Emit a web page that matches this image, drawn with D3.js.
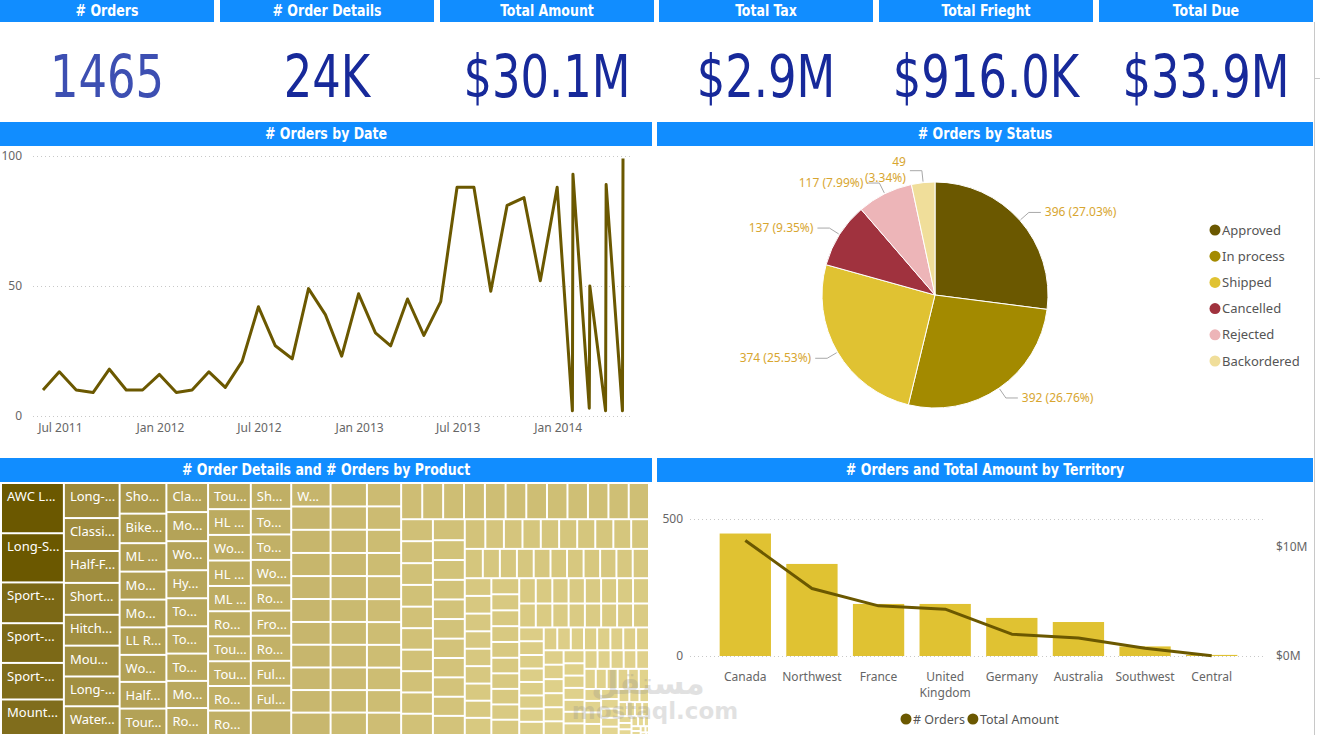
<!DOCTYPE html>
<html>
<head>
<meta charset="utf-8">
<script src="https://cdn.jsdelivr.net/npm/d3@7"></script>
<style>
  body { margin: 0; background: #fff; }
  svg { display: block; }
</style>
</head>
<body>
<script>
// ---- KPI cards ----
const kpiTitles = ['# Orders', '# Order Details', 'Total Amount', 'Total Tax', 'Total Frieght', 'Total Due'];
const kpiValues = ['1465', '24K', '$30.1M', '$2.9M', '$916.0K', '$33.9M'];
const kpiColors = ['#3D4FB2', '#17299A', '#17299A', '#17299A', '#17299A', '#17299A'];

// ---- # Orders by Date ----
const orderDates = [
    '2011-05-31', '2011-06-30', '2011-07-31', '2011-08-31', '2011-09-30', '2011-10-31', '2011-11-30', '2011-12-31',
    '2012-01-31', '2012-02-29', '2012-03-31', '2012-04-30', '2012-05-31', '2012-06-30', '2012-07-31', '2012-08-31',
    '2012-09-30', '2012-10-31', '2012-11-30', '2012-12-31', '2013-01-31', '2013-02-28', '2013-03-31', '2013-04-30',
    '2013-05-31', '2013-06-30', '2013-07-31', '2013-08-31', '2013-09-30', '2013-10-31', '2013-11-30', '2013-12-31',
    '2014-01-28', '2014-01-29', '2014-02-28', '2014-03-01', '2014-03-30', '2014-03-31', '2014-04-30', '2014-05-01'
];
const orderCounts = [
    10, 17, 10, 9, 18, 10, 10, 16,
    9, 10, 17, 11, 21, 42, 27, 22,
    49, 39, 23, 47, 32, 27, 45, 31,
    44, 88, 88, 48, 81, 84, 52, 88,
    2, 93, 3, 50, 2, 89, 2, 99
];

// ---- # Orders by Status ----
const statusNames = ['Approved', 'In process', 'Shipped', 'Cancelled', 'Rejected', 'Backordered'];
const statusCounts = [396, 392, 374, 137, 117, 49];
const statusColors = ['#6B5800', '#A38A00', '#E0C232', '#A0323E', '#EDB5B8', '#F0DE9A'];

// ---- # Orders and Total Amount by Territory ----
const territories = ['Canada', 'Northwest', 'France', 'United Kingdom', 'Germany', 'Australia', 'Southwest', 'Central'];
const territoryOrders = [447, 336, 190, 190, 139, 124, 35, 4];
const territoryAmount = [10.6, 6.2, 4.6, 4.3, 2.0, 1.65, 0.72, 0.03]; // $M

// ---- # Order Details by Product (treemap) ----
const productNames = [
    'AWC Logo Cap', 'Long-Sleeve Logo Jersey, L', 'Sport-100 Helmet, Blue', 'Sport-100 Helmet, Black',
    'Sport-100 Helmet, Red', 'Mountain Bike Socks, M',
    'Long-Sleeve Logo Jersey, M', 'Classic Vest, S', 'Half-Finger Gloves, M', 'Short-Sleeve Classic Jersey, XL',
    'Hitch Rack - 4-Bike', 'Mountain Bottle Cage', 'Long-Sleeve Logo Jersey, XL', 'Water Bottle - 30 oz.',
    'Short-Sleeve Classic Jersey, L', 'Bike Wash - Dissolver', 'ML Mountain Frame-W - Silver, 42', 'Mountain-200 Black, 38',
    'Mountain-200 Silver, 38', 'LL Road Frame - Red, 44', "Women's Mountain Shorts, S", 'Half-Finger Gloves, L',
    'Touring-3000 Blue, 54',
    'Classic Vest, M', 'Mountain-100 Black, 44', "Women's Tights, L", 'Hydration Pack - 70 oz.', 'Touring-1000 Blue, 46',
    'Touring-2000 Blue, 60', 'Touring-1000 Yellow, 50', 'Mountain-200 Black, 42', 'Road-650 Red, 44',
    'Touring-3000 Yellow, 58', 'HL Mountain Frame - Black, 38', "Women's Mountain Shorts, M", 'HL Road Frame - Red, 44',
    'ML Road Frame - Red, 48', 'Road-350-W Yellow, 40', 'Touring-1000 Yellow, 60', 'Touring-3000 Blue, 44',
    'Road-750 Black, 52', 'Road-550-W Yellow, 42',
    'Short-Sleeve Classic Jersey, M', 'Touring-1000 Blue, 60', 'Touring-3000 Yellow, 50', "Women's Tights, M",
    'Road-250 Red, 58', 'Front Brakes', 'Road-650 Black, 52', 'Full-Finger Gloves, L', 'Full-Finger Gloves, M',
    '', "Women's Tights, S"
];
const productDetails = [
    430, 421, 349, 340, 313, 304,
    266, 250, 242, 242, 234, 234, 226, 218,
    195, 188, 181, 178, 177, 175, 172, 170, 168,
    165, 165, 165, 159, 159, 155, 155, 154, 153,
    152, 150, 149, 148, 147, 146, 145, 144, 143, 142,
    142, 141, 140, 140, 139, 138, 138, 137, 136, 135,
    126, 125, 124, 124, 123, 123, 122, 122, 121, 121, 120,
    116, 115, 115, 114, 114, 113, 113, 112, 112, 111, 111,
    109, 109, 108, 108, 107, 107, 106, 106, 105, 105, 104,
    104, 103, 103, 103, 102, 102, 102, 101, 101, 101, 100, 100,
    95, 95, 94, 94, 93, 93, 93, 92, 92, 92, 91,
    86, 86, 85, 85, 85, 84, 84, 84, 83, 83, 83,
    75, 75, 74, 74, 73, 73, 73, 72, 72, 72,
    68, 68, 67, 67, 66, 66, 66, 65, 65, 65, 64,
    64, 64, 63, 63, 63, 62, 62, 62, 61,
    61, 60, 60, 60, 59, 59, 59, 58, 58,
    57, 57, 56, 56, 56, 55, 55, 55,
    54, 54, 53, 53, 53, 52, 52, 52,
    46, 46, 45, 45, 45, 44, 44, 44,
    42, 42, 41, 41, 41, 40, 40, 40,
    39, 39, 38, 38, 38, 37, 37,
    35, 35, 34, 34, 33, 33, 33,
    33, 33, 32, 32, 31, 30, 30, 29, 29, 28, 27, 26, 26, 25, 24, 23, 22, 21, 20,
    19, 18, 17, 16, 15, 14, 13, 12, 11, 10, 9, 8, 7, 6, 5, 4, 3, 2, 1
];

const uiFont = "'Segoe UI', 'Noto Sans', 'Open Sans', sans-serif";
const titleFont = "'DejaVu Sans Condensed', 'DejaVu Sans', sans-serif";
const olive = '#6B5800';

const svg = d3.select('body').append('svg')
    .attr('width', 1320)
    .attr('height', 735);

// Blue title bar used by every visual
function header(x, y, w, h, label) {
    svg.append('rect')
        .attr('x', x).attr('y', y)
        .attr('width', w).attr('height', h)
        .attr('fill', '#118DFF');
    svg.append('text')
        .attr('transform', `translate(${x + w / 2},${y + h / 2 + 5}) scale(0.93,1)`)
        .attr('text-anchor', 'middle')
        .attr('font-family', titleFont)
        .attr('font-weight', 'bold')
        .attr('font-size', 15)
        .attr('fill', '#fff')
        .text(label);
}

// ---------- KPI row ----------
kpiTitles.forEach((t, i) => {
    const x0 = Math.round(i * 219.8);
    header(x0, 0, 214, 22, t);
    svg.append('text')
        .attr('transform', `translate(${x0 + 107},97) scale(0.86,1)`)
        .attr('text-anchor', 'middle')
        .attr('font-family', titleFont)
        .attr('font-size', 58)
        .attr('fill', kpiColors[i])
        .text(kpiValues[i]);
});

// right border of the report canvas
svg.append('line')
    .attr('x1', 1314.5).attr('x2', 1314.5)
    .attr('y1', 22).attr('y2', 735)
    .attr('stroke', '#C8C8C8');
svg.append('line')
    .attr('x1', 1314).attr('x2', 1320)
    .attr('y1', 78.5).attr('y2', 78.5)
    .attr('stroke', '#C8C8C8');

// ---------- # Orders by Date ----------
header(0, 122, 652, 24, '# Orders by Date');

const parseDate = d3.timeParse('%Y-%m-%d');
const lineData = orderDates.map((d, i) => ({ date: parseDate(d), value: orderCounts[i] }));

const xTime = d3.scaleTime()
    .domain(d3.extent(lineData, d => d.date))
    .range([43, 623]);
const yLine = d3.scaleLinear().domain([0, 100]).range([416, 156]);

const gLine = svg.append('g');

gLine.append('g')
    .attr('transform', 'translate(33,0)')
    .call(d3.axisLeft(yLine).tickValues([0, 50, 100]).tickSize(-597).tickPadding(11))
    .call(g => g.select('.domain').remove())
    .call(g => g.selectAll('.tick line').attr('stroke', '#C8C8C8').attr('stroke-dasharray', '1,3'))
    .call(g => g.selectAll('.tick text')
        .attr('fill', '#666').attr('font-size', 12).attr('font-family', uiFont));

gLine.append('g')
    .attr('transform', 'translate(0,416)')
    .call(d3.axisBottom(xTime)
        .ticks(d3.timeMonth.every(6))
        .tickFormat(d3.timeFormat('%b %Y'))
        .tickSize(0).tickPadding(7))
    .call(g => g.select('.domain').remove())
    .call(g => g.selectAll('.tick text')
        .attr('fill', '#666').attr('font-size', 12).attr('font-family', uiFont));

gLine.append('path')
    .datum(lineData)
    .attr('fill', 'none')
    .attr('stroke', olive)
    .attr('stroke-width', 3)
    .attr('stroke-linejoin', 'round')
    .attr('d', d3.line().x(d => xTime(d.date)).y(d => yLine(d.value)));

// ---------- # Orders by Status ----------
header(657, 122, 656, 24, '# Orders by Status');

const pieCx = 935, pieCy = 295, pieR = 113;
const statusTotal = d3.sum(statusCounts);
const pieArcs = d3.pie().sort(null).value(d => d)(statusCounts);
const arcGen = d3.arc().innerRadius(0).outerRadius(pieR);

const gPie = svg.append('g').attr('transform', `translate(${pieCx},${pieCy})`);

gPie.selectAll('path.slice')
    .data(pieArcs)
    .join('path')
    .attr('class', 'slice')
    .attr('d', arcGen)
    .attr('fill', (d, i) => statusColors[i])
    .attr('stroke', '#fff')
    .attr('stroke-width', 1);

pieArcs.forEach((a, i) => {
    const mid = (a.startAngle + a.endAngle) / 2;
    const sx = Math.sin(mid), sy = -Math.cos(mid);
    const side = sx >= 0 ? 1 : -1;
    const p1 = [sx * (pieR + 1), sy * (pieR + 1)];
    const p2 = [sx * (pieR + 12), sy * (pieR + 12)];
    const p3 = [p2[0] + side * 12, p2[1]];

    gPie.append('path')
        .attr('d', d3.line()([p1, p2, p3]))
        .attr('fill', 'none')
        .attr('stroke', '#A8A8A8')
        .attr('stroke-width', 1);

    const pct = (a.value / statusTotal * 100).toFixed(2) + '%';
    const t = gPie.append('text')
        .attr('text-anchor', side > 0 ? 'start' : 'end')
        .attr('font-family', uiFont)
        .attr('font-size', 12)
        .attr('fill', '#D8A630');
    const tx = p3[0] + side * 4;
    if (a.value / statusTotal < 0.05) {
        // small slice: label wraps on two lines
        t.append('tspan').attr('x', tx).attr('y', p2[1] - 5).text(a.value);
        t.append('tspan').attr('x', tx).attr('y', p2[1] + 11).text(`(${pct})`);
    } else {
        t.attr('x', tx).attr('y', p2[1] + 4).text(`${a.value} (${pct})`);
    }
});

// legend
const gPieLegend = svg.append('g').attr('transform', 'translate(1215,230)');
statusNames.forEach((name, i) => {
    const y = i * 26.2;
    gPieLegend.append('circle').attr('cx', 0).attr('cy', y).attr('r', 5.5).attr('fill', statusColors[i]);
    gPieLegend.append('text')
        .attr('x', 7).attr('y', y + 4.5)
        .attr('font-family', uiFont).attr('font-size', 13)
        .attr('fill', '#555')
        .text(name);
});

// ---------- # Order Details and # Orders by Product ----------
header(0, 458, 652, 24, '# Order Details and # Orders by Product');

const root = d3.hierarchy({
        children: productDetails.map((v, i) => ({ name: productNames[i] || '', value: v }))
    })
    .sum(d => d.value || 0)
    .sort((a, b) => b.value - a.value);

d3.treemap()
    .tile(d3.treemapSquarify)
    .size([646, 250])
    .paddingInner(2)(root);

const tileColor = d3.scaleLinear()
    .domain([1, 20, 60, 100, 120, 140, 160, 215, 270, 300, 350, 420])
    .range(['#E6D996', '#E3D590', '#D8C981', '#CFBF75', '#C8B76E', '#C1B066', '#B6A55A',
             '#A39143', '#9B8839', '#806D1D', '#7B6815', '#6B5800'])
    .clamp(true);

const gTree = svg.append('g').attr('transform', 'translate(2,484)');
const cells = gTree.selectAll('g.cell')
    .data(root.leaves())
    .join('g')
    .attr('class', 'cell')
    .attr('transform', d => `translate(${d.x0},${d.y0})`);

cells.append('rect')
    .attr('width', d => Math.max(0, d.x1 - d.x0))
    .attr('height', d => Math.max(0, d.y1 - d.y0))
    .attr('fill', d => tileColor(d.value));

cells.filter(d => d.data.name && (d.x1 - d.x0) > 24 && (d.y1 - d.y0) > 18)
    .append('text')
    .attr('x', 5)
    .attr('y', 17)
    .attr('font-family', uiFont)
    .attr('font-size', 13)
    .attr('fill', '#fff')
    .each(function (d) {
        const el = d3.select(this);
        const avail = (d.x1 - d.x0) - 8;
        const full = d.data.name;
        el.text(full);
        if (this.getComputedTextLength() <= avail) return;
        let n = full.length;
        while (n > 1) {
            n--;
            el.text(full.slice(0, n) + '...');
            if (this.getComputedTextLength() <= avail) break;
        }
    });

// ---------- # Orders and Total Amount by Territory ----------
header(657, 458, 656, 24, '# Orders and Total Amount by Territory');

const xBand = d3.scaleBand()
    .domain(territories)
    .range([712, 1245])
    .paddingInner(0.23)
    .paddingOuter(0.115);
const yOrders = d3.scaleLinear().domain([0, 500]).range([656, 519]);
const yAmount = d3.scaleLinear().domain([0, 12.57]).range([656, 519]);

const gCombo = svg.append('g');

gCombo.append('g')
    .attr('transform', 'translate(690,0)')
    .call(d3.axisLeft(yOrders).tickValues([0, 500]).tickSize(-574).tickPadding(7))
    .call(g => g.select('.domain').remove())
    .call(g => g.selectAll('.tick line').attr('stroke', '#C8C8C8').attr('stroke-dasharray', '1,3'))
    .call(g => g.selectAll('.tick text')
        .attr('fill', '#666').attr('font-size', 12).attr('font-family', uiFont));

gCombo.append('g')
    .attr('transform', 'translate(1264,0)')
    .call(d3.axisRight(yAmount).tickValues([0, 10]).tickFormat(d => `$${d}M`).tickSize(0).tickPadding(12))
    .call(g => g.select('.domain').remove())
    .call(g => g.selectAll('.tick text')
        .attr('fill', '#666').attr('font-size', 12).attr('font-family', uiFont));

gCombo.selectAll('rect.bar')
    .data(territories)
    .join('rect')
    .attr('class', 'bar')
    .attr('x', d => xBand(d))
    .attr('width', xBand.bandwidth())
    .attr('y', (d, i) => yOrders(territoryOrders[i]))
    .attr('height', (d, i) => yOrders(0) - yOrders(territoryOrders[i]))
    .attr('fill', '#E0C232');

gCombo.append('path')
    .datum(territories)
    .attr('fill', 'none')
    .attr('stroke', olive)
    .attr('stroke-width', 3)
    .attr('stroke-linejoin', 'round')
    .attr('d', d3.line()
        .x(d => xBand(d) + xBand.bandwidth() / 2)
        .y((d, i) => yAmount(territoryAmount[i])));

// category labels, wrapped when wider than the band step
gCombo.selectAll('text.cat')
    .data(territories)
    .join('text')
    .attr('class', 'cat')
    .attr('text-anchor', 'middle')
    .attr('font-family', uiFont)
    .attr('font-size', 12)
    .attr('fill', '#666')
    .each(function (d) {
        const el = d3.select(this);
        const cx = xBand(d) + xBand.bandwidth() / 2;
        el.append('tspan').attr('x', cx).attr('y', 681).text(d);
        if (this.getComputedTextLength() > xBand.step() - 4) {
            el.text(null);
            d.split(' ').forEach((w, k) => {
                el.append('tspan').attr('x', cx).attr('y', 681 + k * 16).text(w);
            });
        }
    });

// legend
const comboLegend = ['# Orders', 'Total Amount'];
let lx = 901;
comboLegend.forEach(label => {
    svg.append('circle').attr('cx', lx + 5).attr('cy', 719).attr('r', 5.5).attr('fill', olive);
    const t = svg.append('text')
        .attr('x', lx + 12).attr('y', 723.5)
        .attr('font-family', uiFont).attr('font-size', 12.5)
        .attr('fill', '#555')
        .text(label);
    lx += 12 + t.node().getComputedTextLength() + 3;
});

// faint source watermark (kept clear of the axis and category labels)
const gMark = svg.append('g').attr('opacity', 0.25).attr('fill', '#8C8C8C')
    .attr('font-family', "'DejaVu Sans', sans-serif").attr('font-weight', 'bold')
    .attr('text-anchor', 'middle');
gMark.append('text').attr('x', 648).attr('y', 694).attr('font-size', 31).text('مستقل');
gMark.append('text').attr('x', 655).attr('y', 719).attr('font-size', 23).text('mostaql.com');
</script>
</body>
</html>
